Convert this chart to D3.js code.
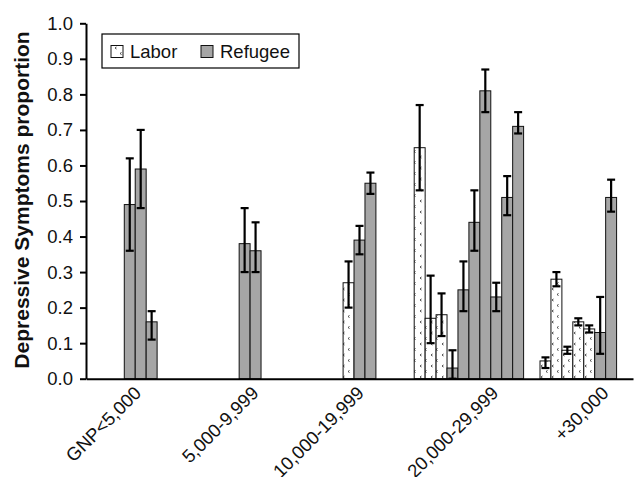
<!DOCTYPE html>
<html>
<head>
<meta charset="utf-8">
<script src="https://cdn.jsdelivr.net/npm/d3@7"></script>
<style>
  body { margin: 0; background: #fff; }
  text { font-family: "Liberation Sans", Arial, sans-serif; }
</style>
</head>
<body>
<div id="chart"></div>
<script>
// categorías de GNP
const categories = ["GNP<5,000", "5,000-9,999", "10,000-19,999", "20,000-29,999", "+30,000"];

// una entrada por barra
const barGroup = [0, 0, 0, 1, 1, 2, 2, 2, 3, 3, 3, 3, 3, 3, 3, 3, 3, 3, 4, 4, 4, 4, 4, 4, 4];
const barType = [
  "Refugee", "Refugee", "Refugee",
  "Refugee", "Refugee",
  "Labor", "Refugee", "Refugee",
  "Labor", "Labor", "Labor", "Refugee", "Refugee", "Refugee", "Refugee", "Refugee", "Refugee", "Refugee",
  "Labor", "Labor", "Labor", "Labor", "Labor", "Refugee", "Refugee"
];
const barValue = [0.49, 0.59, 0.16, 0.38, 0.36, 0.27, 0.39, 0.55,
  0.65, 0.17, 0.18, 0.03, 0.25, 0.44, 0.81, 0.23, 0.51, 0.71,
  0.05, 0.28, 0.08, 0.16, 0.14, 0.13, 0.51];
const barLow = [0.36, 0.48, 0.11, 0.30, 0.30, 0.20, 0.35, 0.52,
  0.53, 0.10, 0.12, 0.00, 0.19, 0.36, 0.75, 0.19, 0.46, 0.69,
  0.03, 0.26, 0.07, 0.15, 0.13, 0.07, 0.47];
const barHigh = [0.62, 0.70, 0.19, 0.48, 0.44, 0.33, 0.43, 0.58,
  0.77, 0.29, 0.24, 0.08, 0.33, 0.53, 0.87, 0.27, 0.57, 0.75,
  0.06, 0.30, 0.09, 0.17, 0.15, 0.23, 0.56];
const yTicks = [0, 0.1, 0.2, 0.3, 0.4, 0.5, 0.6, 0.7, 0.8, 0.9, 1.0];
const legendItems = ["Labor", "Refugee"];

const width = 634, height = 477;
const plot = { left: 86, right: 633, top: 23.3, bottom: 378.7 };
const slotsPerBand = 10;
const fontSize = 18.5;
// las etiquetas del eje no están centradas en el original
const labelShift = [0, 8, 4, 29, 30];

const svg = d3.select("#chart").append("svg")
  .attr("width", width).attr("height", height);

// patrón punteado de las barras Labor
const defs = svg.append("defs");
const pat = defs.append("pattern")
  .attr("id", "dots").attr("patternUnits", "userSpaceOnUse")
  .attr("width", 11).attr("height", 11);
pat.append("rect").attr("width", 11).attr("height", 11).attr("fill", "#fff");
pat.append("path").attr("d", "M3.5,2 L2,3 L3.5,4").attr("stroke", "#444").attr("stroke-width", 1).attr("fill", "none");
pat.append("path").attr("d", "M8.5,7.5 L7,8.5 L8.5,9.5").attr("stroke", "#444").attr("stroke-width", 1).attr("fill", "none");

const x = d3.scaleBand().domain(categories).range([plot.left, plot.right]).padding(0);
const y = d3.scaleLinear().domain([0, 1]).range([plot.bottom, plot.top]);
const slotW = x.bandwidth() / slotsPerBand;

const bars = barValue.map((v, i) => ({
  group: barGroup[i], type: barType[i], value: v, lo: barLow[i], hi: barHigh[i]
}));
const byGroup = d3.group(bars, d => d.group);
byGroup.forEach((arr, g) => {
  const cx = x(categories[g]) + x.bandwidth() / 2;
  const inner = d3.scaleBand().domain(d3.range(arr.length))
    .range([cx - arr.length * slotW / 2, cx + arr.length * slotW / 2]);
  arr.forEach((d, k) => { d.x = inner(k); d.w = inner.bandwidth(); });
});

const fill = t => (t === "Labor" ? "url(#dots)" : "#a6a6a6");

// barras
svg.append("g").selectAll("rect").data(bars).join("rect")
  .attr("x", d => d.x).attr("y", d => y(d.value))
  .attr("width", d => d.w).attr("height", d => y(0) - y(d.value))
  .attr("fill", d => fill(d.type))
  .attr("stroke", "#111").attr("stroke-width", 1);

// barras de error
const err = svg.append("g").attr("stroke", "#000").attr("stroke-width", 2.2);
bars.forEach(d => {
  const cx = d.x + d.w / 2;
  err.append("line").attr("x1", cx).attr("x2", cx).attr("y1", y(d.lo)).attr("y2", y(d.hi));
  err.append("line").attr("x1", cx - 4).attr("x2", cx + 4).attr("y1", y(d.lo)).attr("y2", y(d.lo));
  err.append("line").attr("x1", cx - 4).attr("x2", cx + 4).attr("y1", y(d.hi)).attr("y2", y(d.hi));
});

// eje Y
const yAxis = svg.append("g").attr("transform", `translate(${plot.left},0)`)
  .call(d3.axisLeft(y).tickValues(yTicks).tickFormat(d3.format(".1f")).tickSize(6).tickPadding(7).tickSizeOuter(0));
yAxis.select(".domain").attr("stroke", "#000").attr("stroke-width", 2);
yAxis.selectAll(".tick line").attr("stroke", "#000").attr("stroke-width", 2);
yAxis.selectAll(".tick text").attr("font-size", fontSize).attr("fill", "#111")
  .attr("font-family", "Liberation Sans, Arial, sans-serif");

// eje X
const xAxis = svg.append("g").attr("transform", `translate(0,${plot.bottom})`)
  .call(d3.axisBottom(x).tickSize(0).tickSizeOuter(0));
xAxis.select(".domain").attr("stroke", "#000").attr("stroke-width", 2);
xAxis.selectAll(".tick text")
  .attr("font-size", fontSize).attr("fill", "#111")
  .attr("font-family", "Liberation Sans, Arial, sans-serif")
  .attr("text-anchor", "end")
  .attr("dy", "0.35em")
  .attr("transform", (d, i) => `translate(${labelShift[i] - 3},11) rotate(-45)`)
  .attr("y", 0).attr("x", 0);

// título eje Y
svg.append("text")
  .attr("transform", `translate(21,${(plot.top + plot.bottom) / 2 - 1}) rotate(-90)`)
  .attr("text-anchor", "middle").attr("dominant-baseline", "central")
  .attr("font-weight", "bold").attr("font-size", 21).attr("fill", "#111")
  .text("Depressive Symptoms proportion");

// leyenda
const leg = svg.append("g").attr("transform", "translate(102,34)");
leg.append("rect").attr("width", 197).attr("height", 34)
  .attr("fill", "#fff").attr("stroke", "#000").attr("stroke-width", 1.2);
const legX = [9, 99];
legendItems.forEach((t, i) => {
  leg.append("rect").attr("x", legX[i]).attr("y", 11.5).attr("width", 12).attr("height", 12)
    .attr("fill", fill(t)).attr("stroke", "#111").attr("stroke-width", 1);
  leg.append("text").attr("x", legX[i] + 19).attr("y", 17.5).attr("dy", "0.35em")
    .attr("font-size", fontSize).attr("fill", "#111").text(t);
});
</script>
</body>
</html>
